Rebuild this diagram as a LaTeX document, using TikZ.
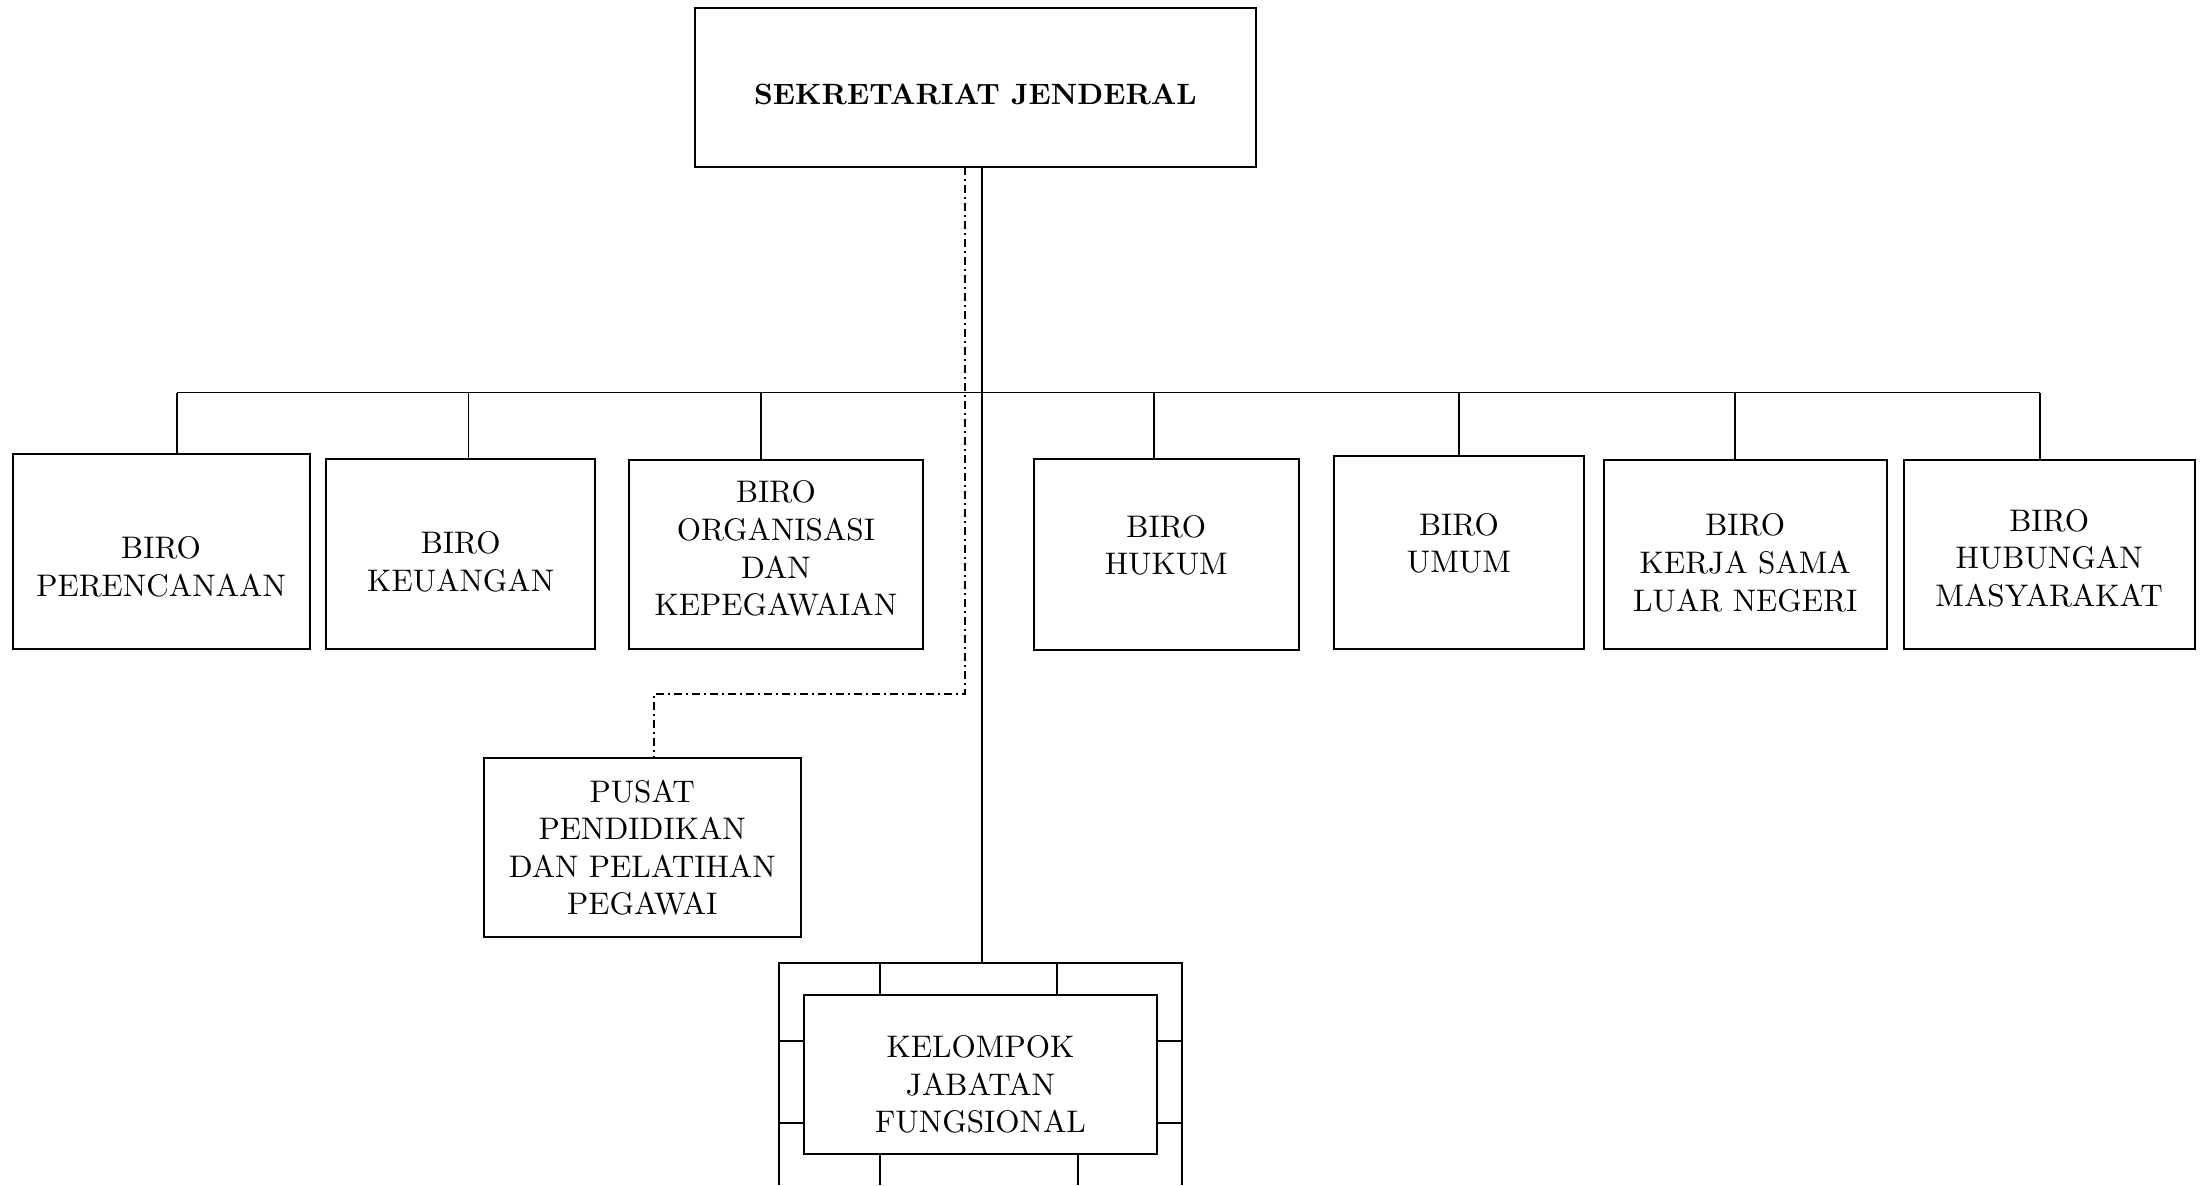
\documentclass[tikz,border=0pt]{standalone}
\usepackage{fontspec}
\newfontfamily\boxfont{lmroman10-regular}[Extension=.otf, BoldFont=lmroman10-bold]
\begin{document}
\begin{tikzpicture}[x=0.5pt,y=-0.5pt,
  unit/.style={draw=black, line width=1pt, fill=white, inner sep=0pt, outer sep=0pt},
  unittext/.style={inner sep=0pt, align=center, font=\boxfont\fontsize{15.6}{18.8}\selectfont},
  link/.style={line width=0.8pt},
  frame/.style={line width=1pt},
  dashdot/.style={line width=0.9pt, dash pattern=on 4pt off 2pt on 1pt off 2pt}]
\useasboundingbox (0,0) rectangle (2206,1185);

% box placed by its corner coordinates (x1,y1) - (x2,y2); #7 lowers the text
\newcommand{\orgbox}[7]{%
  \node[unit, minimum width={(#4-#2)*0.5pt}, minimum height={(#5-#3)*0.5pt}]
    (#1) at ({(#2+#4)/2},{(#3+#5)/2}) {};
  \node[unittext] (#1-text) at ([yshift={-(#7)*0.5pt}]#1.center) {#6};}

% head office
\orgbox{sj}{695}{8}{1256}{167}{\bfseries\fontsize{14.7}{17}\selectfont SEKRETARIAT JENDERAL}{7}

% bureaus
\orgbox{b1}{12.7}{454.4}{309.5}{648.6}{BIRO\\PERENCANAAN}{15.5}
\orgbox{b2}{326.4}{458.6}{595.1}{648.6}{BIRO\\KEUANGAN}{8.5}
\orgbox{b3}{628.9}{460}{922.9}{648.6}{BIRO\\ORGANISASI\\DAN\\KEPEGAWAIAN}{-5.6}
\orgbox{b4}{1034}{458.6}{1298.6}{650}{BIRO\\HUKUM}{-9}
\orgbox{b5}{1333.7}{455.8}{1584.2}{648.6}{BIRO\\UMUM}{-9}
\orgbox{b6}{1603.9}{460}{1886.6}{648.6}{BIRO\\KERJA SAMA\\LUAR NEGERI}{8.5}
\orgbox{b7}{1903.5}{460}{2194.8}{648.6}{BIRO\\HUBUNGAN\\MASYARAKAT}{4}

% training centre
\orgbox{pusat}{484}{758.3}{800.5}{937}{PUSAT\\PENDIDIKAN\\DAN PELATIHAN\\PEGAWAI}{0}

% functional group with its surrounding brick frame
\draw[frame] (779,1185) -- (779,963) -- (1182,963) -- (1182,1185);
\coordinate (kjftop) at (779,963);
\draw[frame] (880,963) -- (880,995);
\draw[frame] (1057,963) -- (1057,995);
\draw[frame] (779,1041) -- (804,1041);
\draw[frame] (779,1123) -- (804,1123);
\draw[frame] (1157,1041) -- (1182,1041);
\draw[frame] (1157,1123) -- (1182,1123);
\draw[frame] (880,1154) -- (880,1185);
\draw[frame] (1078,1154) -- (1078,1185);
\orgbox{kjf}{804}{995}{1157}{1154}{KELOMPOK\\JABATAN\\FUNGSIONAL}{10}

% bus and drops
\coordinate (d1) at (177,392.5);
\coordinate (d2) at (468.5,392.5);
\coordinate (d3) at (761,392.5);
\coordinate (d4) at (1154,392.5);
\coordinate (d5) at (1459,392.5);
\coordinate (d6) at (1735,392.5);
\coordinate (d7) at (2040,392.5);
\draw[link] (d1) -- (d7);
\foreach \i in {1,...,7} {\draw[link] (d\i) -- (b\i.north -| d\i);}

% main stem
\coordinate (stem) at (982,0);
\draw[link] (sj.south -| stem) -- (kjftop -| stem);

% coordination line to the training centre
\coordinate (dtop) at (965,694);
\coordinate (dleft) at (654,694);
\draw[dashdot] (sj.south -| dtop) -- (dtop) -- (dleft) -- (pusat.north -| dleft);
\end{tikzpicture}
\end{document}
